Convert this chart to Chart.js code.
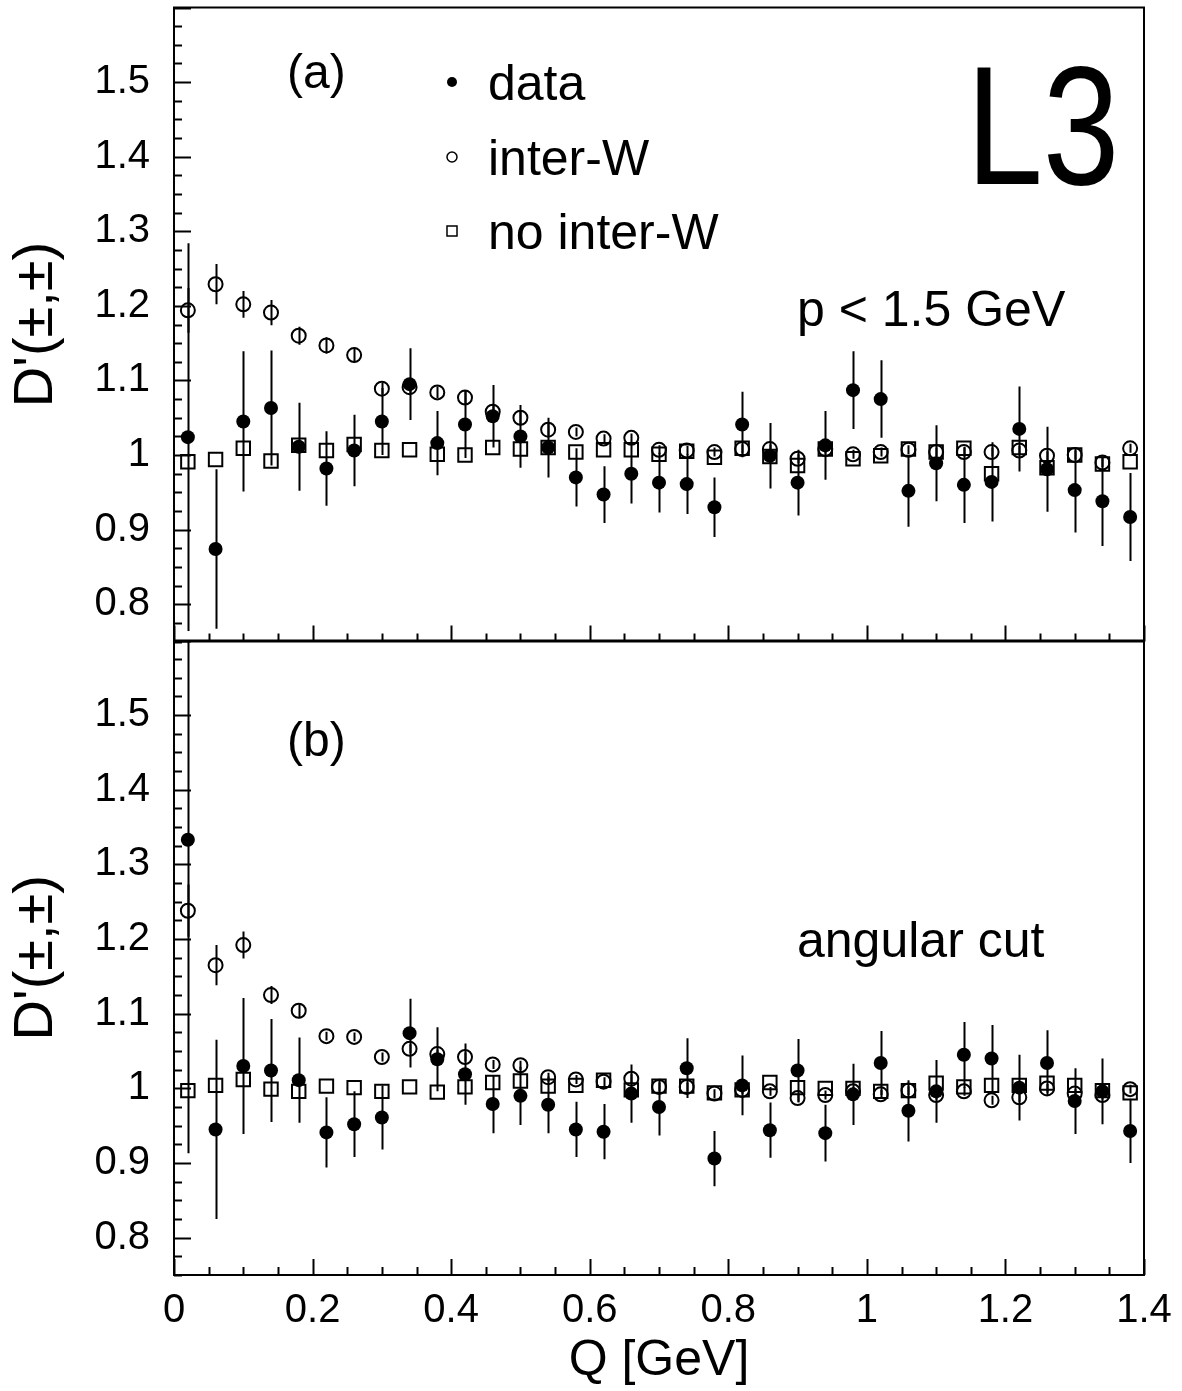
<!DOCTYPE html>
<html>
<head>
<meta charset="utf-8">
<script src="https://cdn.jsdelivr.net/npm/chart.js@4.4.1/dist/chart.umd.min.js"></script>
<style>
  body { margin: 0; background: #fff; overflow: hidden; }
  #wrap { position: relative; width: 1182px; height: 1391px; overflow: hidden; }
  #wrap canvas { position: absolute; left: 0; }
  /* chart.js keeps ~3.5px extra above/below the plot, the offsets below absorb it */
  #chartA { top: -4px; width: 1182px; height: 657px; }
  #chartB { top: 629px; width: 1182px; height: 762px; }
</style>
</head>
<body>
<div id="wrap">
  <canvas id="chartA" width="1182" height="657"></canvas>
  <canvas id="chartB" width="1182" height="762"></canvas>
</div>
<script>
// bin centres in Q [GeV]
var qValues = [0.02, 0.06, 0.10, 0.14, 0.18, 0.22, 0.26, 0.30, 0.34, 0.38, 0.42, 0.46,
  0.50, 0.54, 0.58, 0.62, 0.66, 0.70, 0.74, 0.78, 0.82, 0.86, 0.90,
  0.94, 0.98, 1.02, 1.06, 1.10, 1.14, 1.18, 1.22, 1.26, 1.30, 1.34, 1.38];

// panel (a): p < 1.5 GeV
var dataA = [1.024, 0.874, 1.045, 1.063, 1.011, 0.982, 1.006, 1.045, 1.095, 1.016, 1.041, 1.052,
  1.025, 1.010, 0.970, 0.947, 0.975, 0.963, 0.961, 0.930, 1.041, 0.999, 0.963,
  1.013, 1.087, 1.075, 0.952, 0.989, 0.960, 0.964, 1.035, 0.981, 0.953, 0.938, 0.917];
var dataAErr = [0.26, 0.107, 0.094, 0.077, 0.059, 0.05, 0.048, 0.045, 0.048, 0.043, 0.045, 0.042,
  0.042, 0.04, 0.039, 0.038, 0.04, 0.04, 0.04, 0.04, 0.044, 0.044, 0.044,
  0.046, 0.052, 0.052, 0.048, 0.051, 0.051, 0.053, 0.057, 0.057, 0.057, 0.06, 0.059];
var interA = [1.194, 1.229, 1.202, 1.191, 1.160, 1.147, 1.134, 1.089, 1.091, 1.084, 1.077, 1.058,
  1.050, 1.034, 1.031, 1.022, 1.023, 1.007, 1.006, 1.004, 1.008, 1.008, 0.995,
  1.008, 1.001, 1.004, 1.007, 1.004, 1.004, 1.004, 1.006, 0.999, 1.000, 0.990, 1.009];
var interAErr = [0.03, 0.027, 0.018, 0.017, 0.012, 0.011, 0.01, 0.008, 0.008, 0.008, 0.01, 0.01,
  0.01, 0.008, 0.006, 0.006, 0.006, 0.006, 0.006, 0.006, 0.006, 0.006, 0.006,
  0.006, 0.006, 0.006, 0.006, 0.006, 0.006, 0.006, 0.006, 0.006, 0.006, 0.006, 0.006];
var noInterA = [0.991, 0.994, 1.009, 0.992, 1.013, 1.006, 1.014, 1.006, 1.007, 1.001, 1.000, 1.010,
  1.008, 1.010, 1.004, 1.007, 1.007, 1.001, 1.005, 0.997, 1.009, 0.998, 0.986,
  1.008, 0.995, 0.999, 1.008, 1.004, 1.009, 0.975, 1.010, 0.983, 1.000, 0.988, 0.991];

// panel (b): angular cut
var dataB = [1.333, 0.945, 1.030, 1.024, 1.011, 0.941, 0.952, 0.961, 1.074, 1.039, 1.019, 0.979,
  0.990, 0.978, 0.945, 0.942, 0.993, 0.975, 1.027, 0.906, 1.004, 0.944, 1.024,
  0.940, 0.992, 1.034, 0.970, 0.996, 1.045, 1.040, 1.001, 1.034, 0.983, 0.996, 0.943];
var dataBErr = [0.42, 0.12, 0.091, 0.069, 0.057, 0.047, 0.044, 0.043, 0.046, 0.043, 0.041, 0.039,
  0.039, 0.038, 0.037, 0.037, 0.039, 0.038, 0.04, 0.037, 0.04, 0.037, 0.042,
  0.038, 0.041, 0.043, 0.041, 0.042, 0.044, 0.045, 0.044, 0.044, 0.044, 0.044, 0.043];
var interB = [1.238, 1.165, 1.192, 1.125, 1.104, 1.070, 1.069, 1.042, 1.053, 1.046, 1.042, 1.032,
  1.031, 1.015, 1.012, 1.009, 1.013, 1.002, 1.002, 0.993, 0.998, 0.996, 0.987,
  0.991, 0.996, 0.992, 0.997, 0.991, 0.996, 0.984, 0.988, 1.000, 0.993, 0.991, 0.999];
var interBErr = [0.035, 0.027, 0.018, 0.012, 0.01, 0.006, 0.006, 0.006, 0.006, 0.006, 0.006, 0.006,
  0.006, 0.006, 0.006, 0.006, 0.006, 0.006, 0.006, 0.006, 0.006, 0.006, 0.006,
  0.006, 0.006, 0.006, 0.006, 0.006, 0.006, 0.006, 0.006, 0.006, 0.006, 0.006, 0.006];
var noInterB = [0.997, 1.004, 1.012, 0.999, 0.996, 1.003, 1.001, 0.996, 1.002, 0.995, 1.002, 1.008,
  1.010, 1.003, 1.004, 1.011, 0.998, 1.003, 1.003, 0.994, 0.998, 1.008, 1.001,
  1.000, 1.000, 0.996, 0.997, 1.007, 1.002, 1.004, 1.004, 1.007, 1.004, 0.997, 0.994];

// axes
var xTicks = [0, 0.2, 0.4, 0.6, 0.8, 1, 1.2, 1.4];
var xTickLabels = ['0', '0.2', '0.4', '0.6', '0.8', '1', '1.2', '1.4'];
var yTicks = [0.8, 0.9, 1, 1.1, 1.2, 1.3, 1.4, 1.5];
var yTickLabels = ['0.8', '0.9', '1', '1.1', '1.2', '1.3', '1.4', '1.5'];
var seriesNames = ['data', 'inter-W', 'no inter-W'];

var FONT = '"Liberation Sans", Arial, Helvetica, sans-serif';

function toPoints(ys) {
  return ys.map(function (y, i) { return { x: qValues[i], y: y }; });
}

// tick marks inside the frame, ROOT style
function drawAxisTicks(chart) {
  var ctx = chart.ctx;
  var a = chart.chartArea;
  var xs = chart.scales.x, ys = chart.scales.y;
  ctx.save();
  ctx.strokeStyle = '#000';
  ctx.lineWidth = 2;
  // y ticks (major every 0.1, minor every 0.025)
  for (var k = 30; k <= 64; k++) {
    var v = k * 0.025;
    if (v < ys.min - 1e-9 || v > ys.max + 1e-9) continue;
    var py = Math.round(ys.getPixelForValue(v)) + 0.5;
    var len = (k % 4 === 0) ? 17 : 8;
    ctx.beginPath();
    ctx.moveTo(a.left, py);
    ctx.lineTo(a.left + len, py);
    ctx.stroke();
  }
  // x ticks (major every 0.2, minor every 0.05)
  for (var j = 0; j <= 28; j++) {
    var xv = j * 0.05;
    var px = Math.round(xs.getPixelForValue(xv)) + 0.5;
    var xl = (j % 4 === 0) ? 16 : 8;
    ctx.beginPath();
    ctx.moveTo(px, a.bottom);
    ctx.lineTo(px, a.bottom - xl);
    ctx.stroke();
  }
  ctx.restore();
}

function drawText(ctx, txt, x, y, size, align) {
  ctx.font = size + 'px ' + FONT;
  ctx.fillStyle = '#000';
  ctx.textAlign = align || 'left';
  ctx.textBaseline = 'alphabetic';
  ctx.fillText(txt, x, y);
}

var panelPlugin = {
  id: 'panelDecor',
  beforeDatasetsDraw: function (chart) {
    // vertical error bars
    var ctx = chart.ctx;
    var a = chart.chartArea;
    var ys = chart.scales.y, xs = chart.scales.x;
    ctx.save();
    ctx.beginPath();
    ctx.rect(a.left, a.top, a.right - a.left, a.bottom - a.top);
    ctx.clip();
    ctx.strokeStyle = '#000';
    ctx.lineWidth = 2;
    chart.data.datasets.forEach(function (ds) {
      if (!ds.errors) return;
      ds.data.forEach(function (p, i) {
        var px = Math.round(xs.getPixelForValue(p.x)) + 0.5;
        ctx.beginPath();
        ctx.moveTo(px, ys.getPixelForValue(p.y + ds.errors[i]));
        ctx.lineTo(px, ys.getPixelForValue(p.y - ds.errors[i]));
        ctx.stroke();
      });
    });
    ctx.restore();
  },
  afterDraw: function (chart) {
    var ctx = chart.ctx;
    var a = chart.chartArea;
    var o = chart.options.plugins.panelDecor;
    var dy = o.offsetTop;
    ctx.save();
    // frame
    ctx.strokeStyle = '#000';
    ctx.lineWidth = 2;
    ctx.strokeRect(a.left, a.top, a.right - a.left, a.bottom - a.top);
    ctx.restore();
    drawAxisTicks(chart);

    ctx.save();
    drawText(ctx, o.tag, 287, o.tagY - dy, 48);
    drawText(ctx, o.cut, 797, o.cutY - dy, 50);
    if (o.legend) {
      // the experiment tag is drawn a bit narrower than the other texts
      ctx.save();
      ctx.translate(976, 184 - dy);
      ctx.scale(0.82, 1);
      drawText(ctx, 'L3', -12, 0, 168);
      ctx.restore();
      var rows = [100, 175, 249];
      var ds = chart.data.datasets;
      rows.forEach(function (ry, i) {
        drawText(ctx, seriesNames[i], 488, ry - dy, 50);
        var cy = ry - 18 - dy;
        ctx.lineWidth = 1.5;
        ctx.strokeStyle = '#000';
        ctx.fillStyle = '#000';
        ctx.beginPath();
        if (ds[i].pointStyle === 'rect') {
          ctx.strokeRect(447, cy - 5, 10, 10);
        } else {
          ctx.arc(452, cy, 5, 0, Math.PI * 2);
          if (i === 0) ctx.fill(); else ctx.stroke();
        }
      });
    }
    ctx.restore();
  }
};

function makePanel(canvasId, series, errs, deco, showX) {
  var ctx = document.getElementById(canvasId).getContext('2d');
  return new Chart(ctx, {
    type: 'scatter',
    data: {
      datasets: [{
        label: seriesNames[0],
        data: toPoints(series[0]),
        errors: errs[0],
        pointStyle: 'circle',
        pointRadius: 7,
        backgroundColor: '#000',
        borderColor: '#000',
        borderWidth: 0
      }, {
        label: seriesNames[1],
        data: toPoints(series[1]),
        errors: errs[1],
        pointStyle: 'circle',
        pointRadius: 7,
        backgroundColor: 'rgba(0,0,0,0)',
        borderColor: '#000',
        borderWidth: 2
      }, {
        label: seriesNames[2],
        data: toPoints(series[2]),
        pointStyle: 'rect',
        pointRadius: 9.5,
        backgroundColor: 'rgba(0,0,0,0)',
        borderColor: '#000',
        borderWidth: 2
      }]
    },
    options: {
      responsive: false,
      maintainAspectRatio: false,
      devicePixelRatio: 1,
      animation: false,
      events: [],
      layout: { padding: { left: 0, right: 38, top: 8, bottom: showX ? 0 : 8 } },
      plugins: {
        legend: { display: false },
        tooltip: { enabled: false },
        panelDecor: deco
      },
      scales: {
        x: {
          type: 'linear',
          display: showX,
          min: 0,
          max: 1.4,
          afterBuildTicks: function (s) { s.ticks = xTicks.map(function (v) { return { value: v }; }); },
          afterFit: function (s) {
            s.height = showX ? 116 : 0;
            s.paddingLeft = 0;
            s.paddingRight = 0;
          },
          grid: { display: false, drawTicks: false, tickLength: 0 },
          border: { display: false },
          ticks: {
            padding: 12,
            color: '#000',
            font: { family: FONT, size: 40 },
            maxRotation: 0,
            autoSkip: false,
            callback: function (v) { return xTickLabels[xTicks.indexOf(v)]; }
          },
          title: {
            display: true,
            text: 'Q [GeV]',
            color: '#000',
            font: { family: FONT, size: 50 },
            padding: { top: 0, bottom: 0 }
          }
        },
        y: {
          type: 'linear',
          min: 0.75,
          max: 1.6,
          afterBuildTicks: function (s) { s.ticks = yTicks.map(function (v) { return { value: v }; }); },
          afterFit: function (s) {
            s.width = 174;
            s.paddingTop = 0;
            s.paddingBottom = 0;
          },
          grid: { display: false, drawTicks: false, tickLength: 0 },
          border: { display: false },
          ticks: {
            padding: 24,
            color: '#000',
            font: { family: FONT, size: 40 },
            autoSkip: false,
            callback: function (v) {
              var i = yTicks.findIndex(function (t) { return Math.abs(t - v) < 1e-9; });
              return yTickLabels[i];
            }
          },
          title: {
            display: true,
            text: "D'(\u00b1,\u00b1)",
            color: '#000',
            font: { family: FONT, size: 56 },
            padding: { top: 3, bottom: 0 }
          }
        }
      }
    },
    plugins: [panelPlugin]
  });
}

makePanel('chartA', [dataA, interA, noInterA], [dataAErr, interAErr],
  { offsetTop: -4, tag: '(a)', tagY: 88, cut: 'p < 1.5 GeV', cutY: 326, legend: true }, false);
makePanel('chartB', [dataB, interB, noInterB], [dataBErr, interBErr],
  { offsetTop: 629, tag: '(b)', tagY: 756, cut: 'angular cut', cutY: 957, legend: false }, true);
</script>
</body>
</html>
